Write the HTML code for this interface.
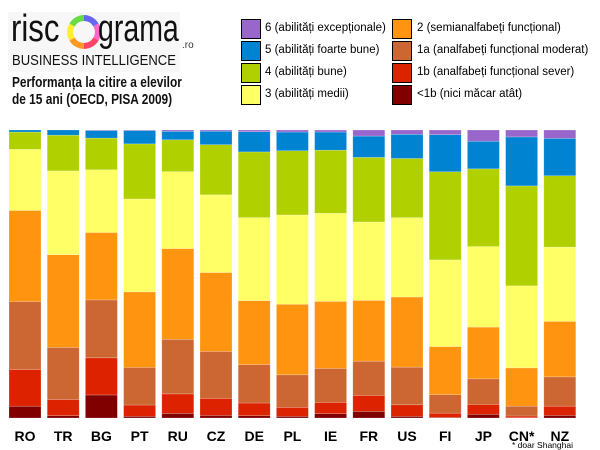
<!DOCTYPE html>
<html><head><meta charset="utf-8"><style>
body{margin:0;width:600px;height:450px;background:#fff;font-family:"Liberation Sans",sans-serif;position:relative;overflow:hidden}
.abs{position:absolute}
.lg{position:absolute;font-size:11.5px;color:#000;white-space:nowrap}
.sw{position:absolute;width:18px;height:18px;border:1px solid #000}
</style></head><body>
<div class="abs" style="left:8px;top:12px;width:172px;height:60px;background:#f7f7f7"></div>
<div class="abs" style="left:11px;top:10px;font-size:38px;line-height:38px;color:#111;transform:scaleX(0.82);transform-origin:0 0">risc</div>
<svg class="abs" style="left:67px;top:15px" width="34" height="34" viewBox="0 0 34 34">
<g fill="none" stroke-width="6">
<path d="M17 3 A14 14 0 0 1 29 10" stroke="#6666ee"/>
<path d="M29 10 A14 14 0 0 1 29 24" stroke="#ff66cc"/>
<path d="M29 24 A14 14 0 0 1 17 31" stroke="#ff4466"/>
<path d="M17 31 A14 14 0 0 1 5 24" stroke="#ff9922"/>
<path d="M5 24 A14 14 0 0 1 5 10" stroke="#ffee33"/>
<path d="M5 10 A14 14 0 0 1 17 3" stroke="#66dd44"/>
</g></svg>
<div class="abs" style="left:98px;top:10px;font-size:38px;line-height:38px;color:#111;transform:scaleX(0.75);transform-origin:0 0">grama</div>
<div class="abs" style="left:182px;top:40px;font-size:10px;color:#333">.ro</div>
<div class="abs" style="left:12px;top:53px;font-size:14.5px;color:#111;white-space:nowrap;transform:scaleX(0.9);transform-origin:0 0">BUSINESS INTELLIGENCE</div>
<div class="abs" style="left:12px;top:75px;font-size:14.5px;font-weight:bold;line-height:17px;color:#111;white-space:nowrap;transform:scaleX(0.82);transform-origin:0 0">Performanța la citire a elevilor<br>de 15 ani (OECD, PISA 2009)</div>

<div class="sw" style="left:241px;top:19px;background:#9966cc"></div>
<div class="lg" style="left:265px;top:22px">6 (abilități excepționale)</div>
<div class="sw" style="left:241px;top:41px;background:#0083d0"></div>
<div class="lg" style="left:265px;top:44px">5 (abilități foarte bune)</div>
<div class="sw" style="left:241px;top:63px;background:#b0d000"></div>
<div class="lg" style="left:265px;top:66px">4 (abilități bune)</div>
<div class="sw" style="left:241px;top:85px;background:#ffff66"></div>
<div class="lg" style="left:265px;top:88px">3 (abilități medii)</div>
<div class="sw" style="left:392px;top:19px;background:#ff9410"></div>
<div class="lg" style="left:417px;top:22px">2 (semianalfabeți funcțional)</div>
<div class="sw" style="left:392px;top:41px;background:#cc6633"></div>
<div class="lg" style="left:417px;top:44px">1a (analfabeți funcțional moderat)</div>
<div class="sw" style="left:392px;top:63px;background:#dd2200"></div>
<div class="lg" style="left:417px;top:66px">1b (analfabeți funcțional sever)</div>
<div class="sw" style="left:392px;top:85px;background:#800000"></div>
<div class="lg" style="left:417px;top:88px">&lt;1b (nici măcar atât)</div>

<svg id="chart" class="abs" style="left:0;top:0" width="600" height="450"></svg>
<div class="abs" style="left:512px;top:440px;font-size:8.5px;color:#000">* doar Shanghai</div>

<script>
const countries=["RO","TR","BG","PT","RU","CZ","DE","PL","IE","FR","US","FI","JP","CN*","NZ"];
const lvlBelow1b=[4.1,0.8,8.0,0.6,1.6,0.9,0.8,0.6,1.5,2.3,0.6,0.2,1.3,0.1,0.9];
const lvl1b=[12.7,5.6,12.9,3.9,6.8,5.9,4.4,3.1,3.9,5.5,4.0,1.5,3.4,0.6,3.2];
const lvl1a=[23.6,18.1,20.1,13.0,19.0,16.3,13.3,11.3,11.8,11.9,13.1,6.4,8.9,3.4,10.2];
const lvl2=[31.6,32.2,23.4,26.2,31.6,27.4,22.2,24.5,23.3,21.1,24.4,16.7,18.0,13.3,19.3];
const lvl3=[21.2,29.1,21.8,32.2,26.8,27.0,28.8,31.0,30.6,27.2,27.6,30.1,28.0,28.5,25.8];
const lvl4=[6.0,12.4,11.0,19.1,11.1,17.4,22.8,22.3,21.9,22.4,20.6,30.6,27.0,34.7,24.8];
const lvl5=[0.7,1.8,2.6,4.6,2.9,4.7,7.0,6.5,6.3,7.4,8.4,12.9,9.6,17.0,13.0];
const lvl6=[0.0,0.0,0.2,0.2,0.5,0.4,0.6,0.7,0.7,2.1,1.5,1.6,3.9,2.4,2.9];
const series=[lvlBelow1b,lvl1b,lvl1a,lvl2,lvl3,lvl4,lvl5,lvl6];
const colors=["#800000","#dd2200","#cc6633","#ff9410","#ffff66","#b0d000","#0083d0","#9966cc"];
const names=["below-1b","1b","1a","2","3","4","5","6"];
const svg=document.getElementById('chart');
const NS="http://www.w3.org/2000/svg";
const top0=130,bot=418,x0=9,step=38.2,bw=32;
const xPos=i=>x0+i*step;
countries.forEach((c,i)=>{
  let tot=0;series.forEach(s=>tot+=s[i]);
  const yScale=v=>v/tot*(bot-top0);
  let y=bot;
  series.forEach((s,k)=>{
    const h=yScale(s[i]);
    if(h<=0)return;
    const r=document.createElementNS(NS,'rect');
    r.setAttribute('x',xPos(i));r.setAttribute('y',y-h);
    r.setAttribute('width',bw);r.setAttribute('height',h);
    r.setAttribute('fill',colors[k]);
    r.setAttribute('stroke','rgba(255,255,255,0.35)');r.setAttribute('stroke-width','0.6');
    
    
    svg.appendChild(r);
    y-=h;
  });
  const t=document.createElementNS(NS,'text');
  t.setAttribute('x',xPos(i)+bw/2);t.setAttribute('y',441);
  t.setAttribute('text-anchor','middle');t.setAttribute('font-size','14');
  t.setAttribute('font-weight','bold');t.setAttribute('font-family','Liberation Sans, sans-serif');
  t.textContent=c;
  
  
  svg.appendChild(t);
});
</script>
</body></html>
